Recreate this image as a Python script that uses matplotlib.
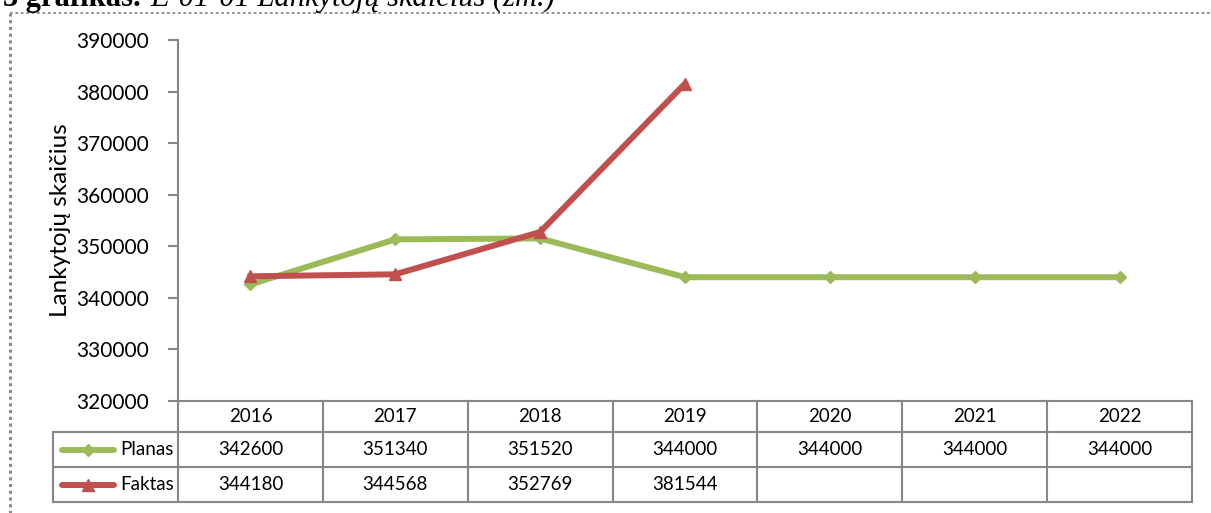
import numpy as np
import matplotlib
matplotlib.use("Agg")
import matplotlib.pyplot as plt
from matplotlib.lines import Line2D

# data
years = ["2016", "2017", "2018", "2019", "2020", "2021", "2022"]
planas = [342600, 351340, 351520, 344000, 344000, 344000, 344000]
faktas = [344180, 344568, 352769, 381544]
yticks = [320000, 330000, 340000, 350000, 360000, 370000, 380000, 390000]

GREEN = "#9BBB59"
RED = "#C0504D"
GRID = "#868686"
W, H = 1211, 513

plt.rcParams["font.family"] = ["Lato", "DejaVu Sans"]

fig = plt.figure(figsize=(W / 100, H / 100), dpi=100)

# plot area (pixel box 178..1192 x 40..401)
L, R, T, B = 178, 1192, 40, 401
ax = fig.add_axes([L / W, 1 - B / H, (R - L) / W, (B - T) / H])
x = np.arange(len(years))
ax.plot(x, planas, color=GREEN, lw=4.3, marker="D", ms=6, zorder=3)
ax.plot(x[:len(faktas)], faktas, color=RED, lw=4.3, marker="^", ms=9, zorder=4)
ax.set_xlim(-0.5, len(years) - 0.5)
ax.set_ylim(yticks[0], yticks[-1])
ax.set_yticks(yticks)
ax.set_yticklabels([str(v) for v in yticks], fontsize=15)
ax.set_xticks([])
for s in ["top", "right", "bottom"]:
    ax.spines[s].set_visible(False)
ax.spines["left"].set_color(GRID)
ax.spines["left"].set_linewidth(1.5)
ax.tick_params(axis="y", direction="out", length=7, width=1.5, color=GRID, pad=14)
ax.set_ylabel("Lankytojų skaičius", fontsize=17.5, labelpad=4)

# data table below the plot
TB = 502
row_edges = [0, 31, 66, 101]
tab = fig.add_axes([L / W, 1 - TB / H, (R - L) / W, (TB - B) / H])
tab.set_xlim(-0.5, len(years) - 0.5)
tab.set_ylim(row_edges[-1], 0)
tab.axis("off")

colw = (R - L) / len(years)


def px2x(px):
    return -0.5 + (px - L) / colw


leg_left = px2x(53)
lk = dict(color=GRID, lw=1.5, clip_on=False, solid_capstyle="projecting")
tab.plot([-0.5, len(years) - 0.5], [row_edges[0]] * 2, **lk)
for r in row_edges[1:]:
    tab.plot([leg_left, len(years) - 0.5], [r, r], **lk)
for i in range(len(years) + 1):
    tab.plot([i - 0.5, i - 0.5], [row_edges[0], row_edges[-1]], **lk)
tab.plot([leg_left, leg_left], [row_edges[1], row_edges[-1]], **lk)

for i, yr in enumerate(years):
    tab.text(i, (row_edges[0] + row_edges[1]) / 2, yr, ha="center", va="center", fontsize=13.5)

rows = [("Planas", planas, GREEN, "D", 6), ("Faktas", faktas, RED, "^", 9)]
for k, (name, vals, col, mk, ms) in enumerate(rows):
    yc = (row_edges[k + 1] + row_edges[k + 2]) / 2
    for i, v in enumerate(vals):
        tab.text(i, yc, str(v), ha="center", va="center", fontsize=13.5)
    tab.add_line(Line2D([px2x(62), px2x(114)], [yc, yc], color=col, lw=4.3,
                        clip_on=False, solid_capstyle="round"))
    tab.add_line(Line2D([px2x(88)], [yc], color=col, marker=mk, ms=ms, lw=0,
                        clip_on=False))
    tab.text(px2x(174), yc, name, ha="right", va="center", fontsize=13.5)

# dotted frame of the document box
fig.add_artist(Line2D([10 / W, 1], [1 - 13 / H] * 2, color="#8a8a8a", lw=1.3,
                      ls=(0, (1.5, 1.5))))
fig.add_artist(Line2D([10 / W, 10 / W], [1 - 13 / H, 0], color="#8a8a8a", lw=2.2,
                      ls=(0, (1, 1.2))))

# caption, cut by the top edge as in the source page
fig.text(3 / W, 1 - 6 / H, "3 grafikas.", fontsize=22, fontweight="bold",
         family="Liberation Serif", va="baseline", ha="left")
fig.text(150 / W, 1 - 6 / H, "E-01-01 Lankytojų skaičius (žm.)", fontsize=22,
         style="italic", family="Liberation Serif", va="baseline", ha="left")

fig.savefig("out.png", dpi=100)
